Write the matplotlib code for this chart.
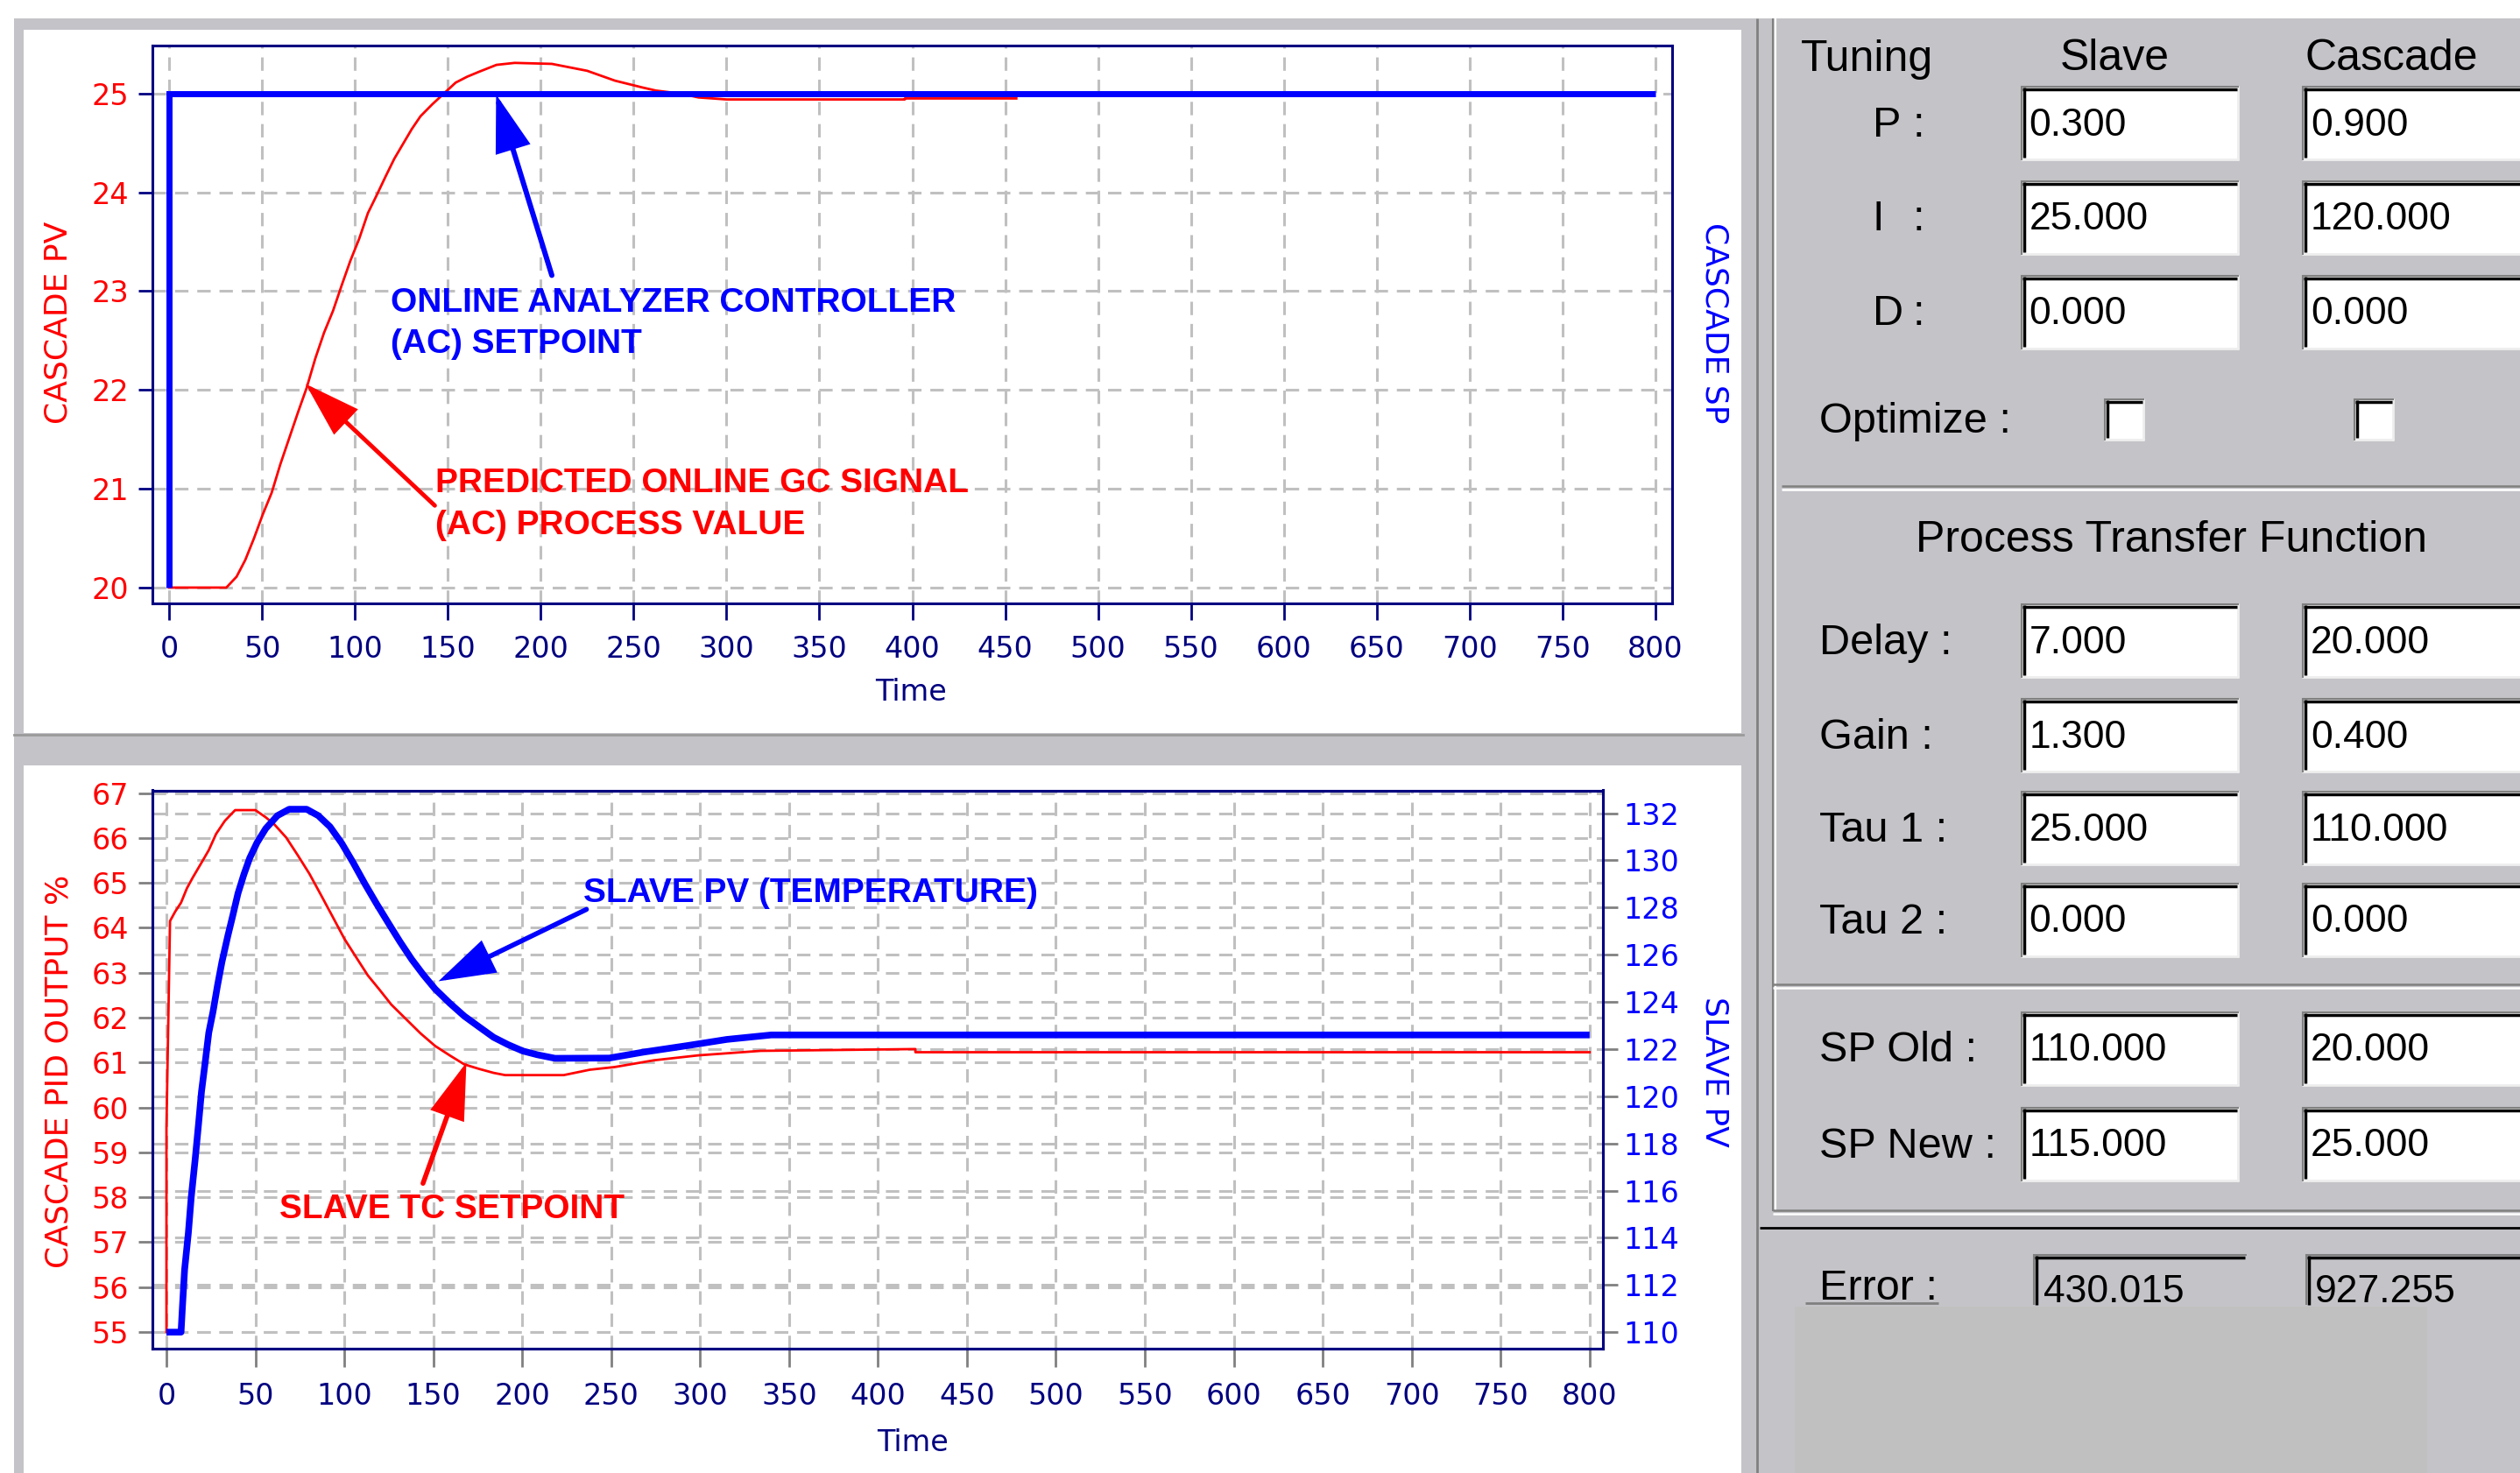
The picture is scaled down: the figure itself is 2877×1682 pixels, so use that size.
import matplotlib.pyplot as plt
from matplotlib.patches import Rectangle
from matplotlib import transforms

# cascade loop: analyzer setpoint step and predicted GC signal
sp_time = [0, 0, 800]
sp_value = [20, 25, 25]
pv_time = [0, 30.8, 36.3, 41, 45.7, 50.4, 55.2, 59.9, 64.6, 69.3, 74, 78.7, 83.4, 88.2, 92.9,
           97.6, 102.3, 107, 111.7, 116.5, 121.2, 125.9, 130.6, 135.3, 141.6, 147.9, 154.2, 160.4,
           166.8, 176.2, 186, 206, 225, 240, 255, 262, 275, 285, 300, 396, 396, 456]
pv_value = [20, 20, 20.11, 20.28, 20.5, 20.74, 20.96, 21.25, 21.51, 21.77, 22.02, 22.32, 22.58,
            22.80, 23.06, 23.31, 23.53, 23.79, 23.97, 24.16, 24.34, 24.49, 24.64, 24.77, 24.89,
            25.0, 25.11, 25.17, 25.22, 25.29, 25.31, 25.30, 25.23, 25.13, 25.06, 25.03, 25.0,
            24.96, 24.94, 24.94, 24.95, 24.95]

# slave loop: cascade PID output (left axis) and slave temperature (right axis)
out_time = [0, 0, 2, 4.9, 8.2, 11.5, 14.8, 19.7, 23.8, 27.9, 32.8, 38.6, 50, 55.8, 60.7, 67.3,
            73.9, 80.4, 87, 93.5, 100.1, 106.7, 113.2, 119.8, 126.4, 134.6, 142.8, 151, 159.2,
            167.4, 175.6, 183.9, 190.4, 223.3, 238, 252, 274, 299, 334, 421, 421, 800]
out_value = [55, 59.55, 64.15, 64.36, 64.56, 64.88, 65.12, 65.45, 65.73, 66.09, 66.38, 66.62,
             66.62, 66.46, 66.30, 66.01, 65.61, 65.20, 64.72, 64.24, 63.75, 63.34, 62.94, 62.62,
             62.29, 61.97, 61.65, 61.37, 61.16, 60.96, 60.86, 60.77, 60.72, 60.72, 60.84, 60.9,
             61.05, 61.16, 61.26, 61.3, 61.23, 61.23]
temp_time = [0, 8.2, 9, 10.2, 12.3, 13.9, 16.1, 18, 19.7, 21.7, 23.8, 26.2, 28.7, 31.2, 34.5,
             37.4, 40.2, 43.5, 46.8, 50.9, 55.8, 62.4, 69, 78.8, 85.3, 91.9, 98.5, 105, 111.6,
             118.2, 124.7, 131.3, 137.9, 144.4, 151, 159.2, 167.4, 175.6, 183.9, 192, 200.3,
             208.5, 218.4, 249, 268, 293, 315, 340, 800]
temp_value = [110, 110, 111.1, 112.65, 114.2, 115.7, 117.3, 118.8, 120.2, 121.4, 122.7, 123.6,
              124.7, 125.7, 126.8, 127.7, 128.6, 129.4, 130.1, 130.75, 131.35, 131.9, 132.17,
              132.17, 131.9, 131.43, 130.73, 129.9, 129.0, 128.15, 127.35, 126.55, 125.8,
              125.15, 124.55, 123.95, 123.4, 122.95, 122.5, 122.19, 121.92, 121.76, 121.61,
              121.62, 121.87, 122.15, 122.41, 122.6, 122.6]

time_ticks = list(range(0, 801, 50))
pv_ticks = [20, 21, 22, 23, 24, 25]
out_ticks = list(range(55, 68))
temp_ticks = list(range(110, 133, 2))

# tuning panel entries
tuning_rows = ['P', 'I', 'D']
slave_tuning = ['0.300', '25.000', '0.000']
cascade_tuning = ['0.900', '120.000', '0.000']
tf_rows = ['Delay :', 'Gain :', 'Tau 1 :', 'Tau 2 :']
slave_tf = ['7.000', '1.300', '25.000', '0.000']
cascade_tf = ['20.000', '0.400', '110.000', '0.000']
sp_rows = ['SP Old :', 'SP New :']
slave_sp = ['110.000', '115.000']
cascade_sp = ['20.000', '25.000']
error_vals = ['430.015', '927.255']

RED = '#ff0000'
BLUE = '#0000ff'
NAVY = '#000080'
GRID = '#c0c0c0'
TICK = '#808080'
PANEL = '#c4c3c8'
GUI_FONT = 'Liberation Sans'

W, H = 2877, 1682
plt.rcParams['font.family'] = 'DejaVu Sans'
fig = plt.figure(figsize=(W / 100, H / 100), dpi=100, facecolor='white')


def rect(l, t, r, b):
    return [l / W, 1 - b / H, (r - l) / W, (b - t) / H]


# window background in pixel units
bg = fig.add_axes([0, 0, 1, 1])
bg.set_xlim(0, W)
bg.set_ylim(H, 0)
bg.axis('off')
bg.add_patch(Rectangle((16, 21), W - 16, H - 21, facecolor=PANEL, edgecolor='none'))
bg.add_patch(Rectangle((27, 34), 1961, 803, facecolor='white', edgecolor='none'))
bg.add_patch(Rectangle((27, 874), 1961, H - 874, facecolor='white', edgecolor='none'))
bg.plot([16, 1990], [838.5, 838.5], color='#9a9a9a', lw=2)


def hline(y, x0, x1, color, lw=1.5):
    bg.plot([x0, x1], [y, y], color=color, lw=lw, solid_capstyle='butt')


def vline(x, y0, y1, color, lw=1.5):
    bg.plot([x, x], [y0, y1], color=color, lw=lw, solid_capstyle='butt')


def field(x0, y0, x1, y1, face='white', bottom=True):
    bg.add_patch(Rectangle((x0, y0), x1 - x0, y1 - y0, facecolor=face, edgecolor='none'))
    if bottom:
        hline(y1 - 1, x0, x1, '#eeeeee', 2)
        vline(x1 - 1, y0, y1, '#eeeeee', 2)
    hline(y0 + 1, x0, x1, '#808080', 1.5)
    vline(x0 + 1, y0, y1, '#808080', 1.5)
    hline(y0 + 4, x0 + 2, x1 - 2, 'black', 2.5)
    vline(x0 + 4, y0 + 2, y1 - 3 if bottom else y1, 'black', 2.5)


# side panel frame lines
vline(2006, 21, H, '#808080', 2)
vline(2024, 21, 1383, '#808080', 1.5)
vline(2027, 21, 1383, 'white', 1.5)
hline(555, 2034, W, '#808080', 1.8)
hline(558.5, 2034, W, 'white', 1.8)
hline(1124, 2024, W, '#808080', 1.8)
hline(1127.5, 2024, W, 'white', 1.8)
hline(1382, 2024, W, '#808080', 1.8)
hline(1386, 2024, W, 'white', 1.8)
hline(1402, 2009, W, 'black', 2)

txt = dict(family=GUI_FONT, color='black')
bg.text(2056, 81, 'Tuning', fontsize=36, va='baseline', ha='left', **txt)
bg.text(2414, 80, 'Slave', fontsize=36, va='baseline', ha='center', **txt)
bg.text(2730, 80, 'Cascade', fontsize=36, va='baseline', ha='center', **txt)

slave_x = (2306.5, 2556)
cascade_x = (2628, 2890)


def entry_row(yc, label, slave_val, cascade_val, label_x=2077):
    field(slave_x[0], yc - 42.5, slave_x[1], yc + 42.5)
    field(cascade_x[0], yc - 42.5, cascade_x[1], yc + 42.5)
    bg.text(slave_x[0] + 10, yc + 14, slave_val, fontsize=32, va='baseline', **txt)
    bg.text(cascade_x[0] + 10, yc + 14, cascade_val, fontsize=32, va='baseline', **txt)
    if label is not None:
        bg.text(label_x, yc + 15, label, fontsize=35, va='baseline', **txt)


for yc, name, s, c in zip([140.8, 248, 356], tuning_rows, slave_tuning, cascade_tuning):
    entry_row(yc, None, s, c)
    bg.text(2138, yc + 15, name, fontsize=35, va='baseline', **txt)
    bg.text(2183, yc + 15, ':', fontsize=35, va='baseline', **txt)

bg.text(2077, 494, 'Optimize :', fontsize=35, va='baseline', **txt)
for x0 in [2402, 2687]:
    field(x0, 455, x0 + 46, 503)

bg.text(2479, 630, 'Process Transfer Function', fontsize=36, va='baseline', ha='center', **txt)
for yc, name, s, c in zip([731.5, 839.5, 945.5, 1050.5], tf_rows, slave_tf, cascade_tf):
    entry_row(yc, name, s, c)
for yc, name, s, c in zip([1197, 1306.5], sp_rows, slave_sp, cascade_sp):
    entry_row(yc, name, s, c)

# error readouts
field(2321, 1432, 2565, 1490, face=PANEL, bottom=False)
field(2632, 1432, 2890, 1490, face=PANEL, bottom=False)
bg.text(2333, 1487, error_vals[0], fontsize=32, va='baseline', **txt)
bg.text(2643, 1487, error_vals[1], fontsize=32, va='baseline', **txt)
bg.text(2077, 1484, 'Error :', fontsize=35, va='baseline', **txt)
bg.add_patch(Rectangle((2049, 1492), 722, H - 1492, facecolor='#c0c0c0', edgecolor='none'))
hline(1488, 2061, 2213, '#808080', 2)

arrow_style = '-|>,head_length=1.9,head_width=0.6'


def style_axes(ax):
    for s in ax.spines.values():
        s.set_color(NAVY)
        s.set_linewidth(2.2)


# ---- upper chart: cascade loop ----
ax1 = fig.add_axes(rect(174, 51.5, 1909, 689))
ax1.plot(pv_time, pv_value, color=RED, lw=2)
ax1.plot(sp_time, sp_value, color=BLUE, lw=5, solid_capstyle='butt', solid_joinstyle='miter')
ax1.set_xlim(-9, 809)
ax1.set_ylim(19.84, 25.49)
ax1.set_xticks(time_ticks)
ax1.set_yticks(pv_ticks)
ax1.set_axisbelow(True)
ax1.grid(True, color=GRID, lw=2.2, linestyle=(0, (5, 3.3)))
style_axes(ax1)
ax1.tick_params(axis='x', colors=NAVY, length=14, width=2, pad=12, labelsize=24)
ax1.tick_params(axis='y', color=NAVY, labelcolor=RED, length=11.5, width=2, pad=8, labelsize=24)
ax1.text(-0.0617, 0.5035, 'CASCADE PV', transform=ax1.transAxes, rotation=90,
         ha='center', va='center', color=RED, fontsize=26)
ax1.text(1.0277, 0.503, 'CASCADE SP', transform=ax1.transAxes, rotation=-90,
         ha='center', va='center', color=BLUE, fontsize=26)
ax1.text(0.4991, -0.16, 'Time', transform=ax1.transAxes, ha='center', va='center',
         color=NAVY, fontsize=24)

ax1.annotate('', xy=(176, 24.99), xytext=(206, 23.16),
             arrowprops=dict(arrowstyle=arrow_style, mutation_scale=20, color=BLUE, lw=4.3,
                             shrinkA=0, shrinkB=0, joinstyle='miter'))
ax1.text(119.3, 23.04, 'ONLINE ANALYZER CONTROLLER\n(AC) SETPOINT', color=BLUE,
         fontsize=28, fontweight='bold', family=GUI_FONT, va='top', ha='left', linespacing=1.4)
ax1.annotate('', xy=(73.5, 22.06), xytext=(143, 20.83),
             arrowprops=dict(arrowstyle=arrow_style, mutation_scale=20, color=RED, lw=3.5,
                             shrinkA=0, shrinkB=0, joinstyle='miter'))
ax1.text(143.3, 21.21, 'PREDICTED ONLINE GC SIGNAL\n(AC) PROCESS VALUE', color=RED,
         fontsize=28, fontweight='bold', family=GUI_FONT, va='top', ha='left', linespacing=1.4)

# ---- lower chart: slave loop ----
ax2 = fig.add_axes(rect(174, 902.5, 1830, 1540))
ax2r = ax2.twinx()
ax2.plot(out_time, out_value, color=RED, lw=2)
ax2r.plot(temp_time, temp_value, color=BLUE, lw=5.5, solid_capstyle='butt')
ax2.set_xlim(-7.9, 807.5)
ax2.set_ylim(54.63, 67.06)
ax2r.set_ylim(109.30, 132.97)
ax2.set_xticks(time_ticks)
ax2.set_yticks(out_ticks)
ax2r.set_yticks(temp_ticks)
ax2.set_axisbelow(True)
ax2.grid(True, color=GRID, lw=2.2, linestyle=(0, (5, 3.3)))
# grid for the temperature scale, kept beneath both curves
right_grid = transforms.blended_transform_factory(ax2.transAxes, ax2r.transData)
ax2.hlines(temp_ticks, 0, 1, transform=right_grid, color=GRID, lw=2.2,
           linestyle=(0, (5, 3.3)), zorder=0.5)
style_axes(ax2)
style_axes(ax2r)
ax2.tick_params(axis='x', color=TICK, labelcolor=NAVY, length=15, width=2, pad=12, labelsize=24)
ax2.tick_params(axis='y', color=TICK, labelcolor=RED, length=11.5, width=2, pad=8, labelsize=24)
ax2r.tick_params(axis='y', color=TICK, labelcolor=BLUE, length=12, width=2, pad=5, labelsize=24)
ax2.text(-0.0646, 0.4973, 'CASCADE PID OUTPUT %', transform=ax2.transAxes, rotation=90,
         ha='center', va='center', color=RED, fontsize=26)
ax2.text(1.0767, 0.4957, 'SLAVE PV', transform=ax2.transAxes, rotation=-90,
         ha='center', va='center', color=BLUE, fontsize=26)
ax2.text(0.5242, -0.1694, 'Time', transform=ax2.transAxes, ha='center', va='center',
         color=NAVY, fontsize=24)

ax2.annotate('', xy=(152.9, 62.81), xytext=(236.1, 64.41),
             arrowprops=dict(arrowstyle=arrow_style, mutation_scale=20, color=BLUE, lw=4,
                             shrinkA=0, shrinkB=0, joinstyle='miter'))
ax2.text(234.4, 65.12, 'SLAVE PV (TEMPERATURE)', color=BLUE, fontsize=28, fontweight='bold',
         family=GUI_FONT, va='top', ha='left')
ax2.annotate('', xy=(168.6, 61.0), xytext=(144.2, 58.31),
             arrowprops=dict(arrowstyle=arrow_style, mutation_scale=20, color=RED, lw=4,
                             shrinkA=0, shrinkB=0, joinstyle='miter'))
ax2.text(63.5, 58.08, 'SLAVE TC SETPOINT', color=RED, fontsize=28, fontweight='bold',
         family=GUI_FONT, va='top', ha='left')

fig.savefig('out.png', dpi=100, facecolor='white')
